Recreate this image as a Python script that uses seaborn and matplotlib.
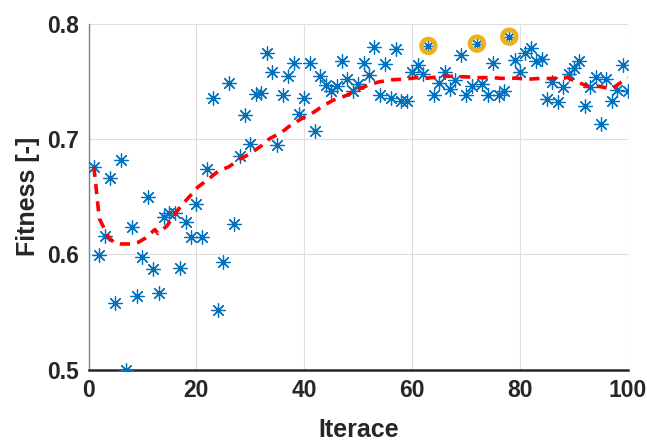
import numpy as np
import pandas as pd
import matplotlib
matplotlib.use("Agg")
import matplotlib.pyplot as plt
import seaborn as sns

# Fitness of each individual per iteration
iterations = list(range(1, 101))
fitness = [
    0.676, 0.599, 0.616, 0.666, 0.558, 0.682, 0.500, 0.624, 0.564, 0.598,
    0.650, 0.587, 0.566, 0.632, 0.636, 0.636, 0.588, 0.628, 0.615, 0.644,
    0.615, 0.674, 0.736, 0.552, 0.593, 0.749, 0.626, 0.685, 0.721, 0.696,
    0.739, 0.740, 0.775, 0.758, 0.695, 0.738, 0.755, 0.766, 0.722, 0.736,
    0.766, 0.707, 0.755, 0.747, 0.742, 0.746, 0.768, 0.752, 0.742, 0.748,
    0.766, 0.756, 0.780, 0.738, 0.765, 0.736, 0.778, 0.733, 0.733, 0.758,
    0.764, 0.757, 0.781, 0.738, 0.749, 0.758, 0.744, 0.751, 0.773, 0.738,
    0.746, 0.783, 0.748, 0.738, 0.766, 0.738, 0.742, 0.789, 0.769, 0.758,
    0.775, 0.779, 0.768, 0.770, 0.735, 0.750, 0.732, 0.745, 0.757, 0.762,
    0.768, 0.729, 0.745, 0.754, 0.713, 0.752, 0.733, 0.743, 0.764, 0.742,
]

# Smoothed trend of the fitness
trend_x = [1, 2, 2.75, 3.7, 4.9, 6, 7.7, 9.3, 10.5, 11.7, 12.3, 12.9, 14.6,
           15.7, 17.3, 18.7, 20.3, 22, 24, 26, 28.2, 30, 32.1, 33.6, 35.8,
           37.3, 39.8, 41.3, 43.5, 45.3, 47.8, 49.4, 51.9, 53.7, 56.5, 58.4,
           60.8, 62.8, 65.8, 67.3, 70.4, 72, 75, 76.6, 79.4, 81.2, 84, 85.8,
           88.7, 90.4, 92.8, 94.5, 97, 98.6, 100]
trend_y = [0.676, 0.631, 0.624, 0.615, 0.6095, 0.609, 0.609, 0.6106, 0.614,
           0.619, 0.6215, 0.618, 0.625, 0.633, 0.643, 0.650, 0.6585, 0.6645,
           0.672, 0.676, 0.683, 0.6875, 0.6945, 0.7005, 0.706, 0.7115,
           0.7187, 0.722, 0.729, 0.7337, 0.738, 0.742, 0.747, 0.7496, 0.7517,
           0.752, 0.7534, 0.753, 0.7546, 0.7546, 0.754, 0.7534, 0.7534,
           0.7528, 0.753, 0.752, 0.7528, 0.7527, 0.7537, 0.750, 0.7455,
           0.746, 0.7435, 0.749, 0.753]

# Highlighted best iterations
best_iters = [63, 72, 78]

x_ticks = [0, 20, 40, 60, 80, 100]
y_ticks = [0.5, 0.6, 0.7, 0.8]
y_tick_labels = ["0.5", "0.6", "0.7", "0.8"]

sns.set_style("white")
plt.rcParams["font.family"] = ["Liberation Sans", "DejaVu Sans"]
plt.rcParams["font.weight"] = "bold"

text_col = "#262626"

df = pd.DataFrame({"Iterace": iterations, "Fitness": fitness})
trend = pd.DataFrame({"Iterace": trend_x, "Fitness": trend_y})
best = df[df["Iterace"].isin(best_iters)]

fig, ax = plt.subplots(figsize=(6.47, 4.43), dpi=100)
fig.subplots_adjust(left=0.1368, right=0.9706, top=0.9458, bottom=0.1659)

ax.grid(True, color="#dedede", linewidth=0.8)
ax.set_axisbelow(True)

sns.scatterplot(data=df, x="Iterace", y="Fitness", marker=(8, 2, 0),
                color="#0072BD", s=95, linewidth=0.9, ax=ax, zorder=3)

sns.lineplot(data=trend, x="Iterace", y="Fitness", color="#FF0000",
             linewidth=2.6, ax=ax, zorder=4)
ax.lines[-1].set_dashes([2.8, 2.0])

sns.scatterplot(data=best, x="Iterace", y="Fitness", marker="o",
                facecolor="none", edgecolor="#EDB120", s=100, linewidth=3.3,
                ax=ax, zorder=5)

ax.set_xlim(0, 100)
ax.set_ylim(0.5, 0.8)
ax.set_xticks(x_ticks)
ax.set_yticks(y_ticks)
ax.set_yticklabels(y_tick_labels)

for side in ("top", "right"):
    ax.spines[side].set_visible(False)
ax.spines["left"].set_color("#808080")
ax.spines["left"].set_linewidth(1.0)
ax.spines["bottom"].set_color(text_col)
ax.spines["bottom"].set_linewidth(1.8)

ax.tick_params(axis="both", direction="in", length=4, width=1.3,
               color=text_col, labelsize=16.5, labelcolor=text_col, pad=7)

ax.set_xlabel("Iterace", fontsize=18, fontweight="bold", color=text_col,
              labelpad=11)
ax.set_ylabel("Fitness [-]", fontsize=18, fontweight="bold", color=text_col,
              labelpad=5)

fig.savefig("out.png", dpi=100)
